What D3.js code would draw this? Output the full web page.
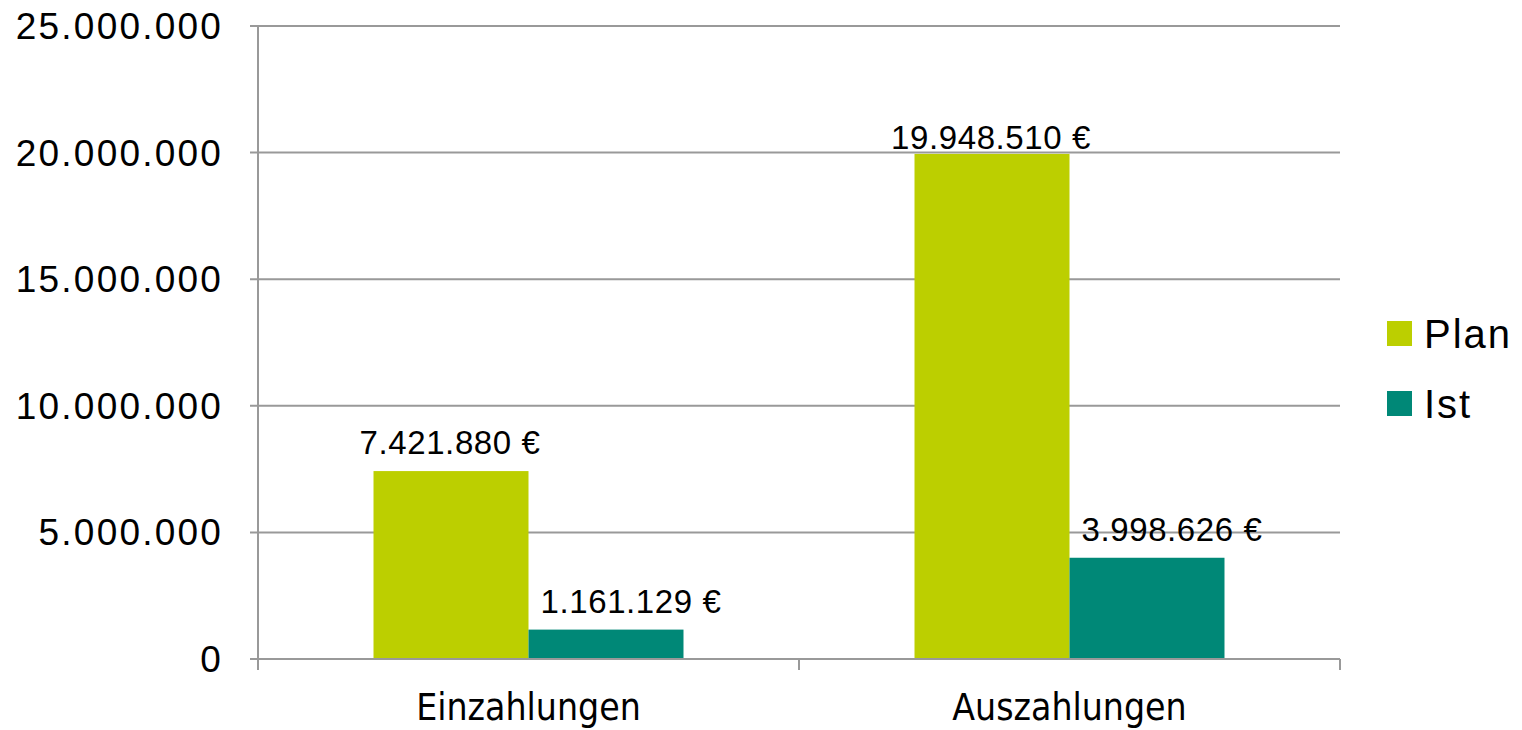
<!DOCTYPE html>
<html>
<head>
<meta charset="utf-8">
<script src="https://cdn.jsdelivr.net/npm/d3@7"></script>
<style>
	html, body { margin: 0; padding: 0; background: #fff; }
	svg text { font-family: "Liberation Sans", Arial, sans-serif; fill: #000; }
	.cat { font-family: "Liberation Sans Narrow", "DejaVu Sans Condensed", sans-serif; }
</style>
</head>
<body>
<svg id="chart"></svg>
<script>
const categories = ['Einzahlungen', 'Auszahlungen']
const series     = ['Plan', 'Ist']
const planValues = [7421880, 19948510]
const istValues  = [1161129, 3998626]
const yTicks     = [0, 5000000, 10000000, 15000000, 20000000, 25000000]

const colors = { Plan: '#bccf00', Ist: '#008877' }

const w = 1522, h = 730
const plotL = 258, plotR = 1340, plotT = 26, plotB = 659

const de = d3.formatLocale({ decimal: ',', thousands: '.', grouping: [3], currency: ['', ' €'] })
const fmt = de.format(',.0f')

const svg = d3.select('#chart').attr('width', w).attr('height', h)

const x = d3.scaleBand().domain(categories).range([plotL, plotR])
const x1 = d3.scaleBand().domain(series)
	.range([x.bandwidth() * 0.2135, x.bandwidth() * (1 - 0.2135)])
const y = d3.scaleLinear().domain([0, 25000000]).range([plotB, plotT])

const rows = categories.map((c, i) => ({ cat: c, Plan: planValues[i], Ist: istValues[i] }))

// Gridlines
svg.append('g')
	.selectAll('line')
	.data(yTicks.slice(1))
	.enter()
	.append('line')
	.attr('x1', plotL - 8).attr('x2', plotR)
	.attr('y1', d => y(d)).attr('y2', d => y(d))
	.attr('stroke', '#999').attr('stroke-width', 2)

// Bars
const groups = svg.append('g')
	.selectAll('g')
	.data(rows)
	.enter()
	.append('g')
	.attr('transform', d => `translate(${x(d.cat)},0)`)

groups.selectAll('rect')
	.data(d => series.map(s => ({ s, v: d[s] })))
	.enter()
	.append('rect')
	.attr('x', d => x1(d.s))
	.attr('width', x1.bandwidth())
	.attr('y', d => y(d.v))
	.attr('height', d => y(0) - y(d.v))
	.attr('fill', d => colors[d.s])

// Labels
groups.selectAll('text')
	.data(d => series.map(s => ({ s, v: d[s] })))
	.enter()
	.append('text')
	.attr('x', d => x1(d.s) + x1.bandwidth() / 2 + (d.s === 'Ist' ? 25 : -1))
	.attr('y', d => Math.max(y(d.v) - 17, 149))
	.attr('text-anchor', 'middle')
	.style('font-size', '33px')
	.style('letter-spacing', '0.6px')
	.text(d => `${fmt(d.v)} €`)

// Y axis
const yAxis = svg.append('g')
yAxis.append('line')
	.attr('x1', plotL).attr('x2', plotL)
	.attr('y1', plotT).attr('y2', plotB + 11)
	.attr('stroke', '#999').attr('stroke-width', 2)
yAxis.selectAll('text')
	.data(yTicks)
	.enter()
	.append('text')
	.attr('x', 223)
	.attr('y', d => y(d) + 13)
	.attr('text-anchor', 'end')
	.style('font-size', '37px')
	.style('letter-spacing', '2.2px')
	.text(d => fmt(d))

// X axis
const xAxis = svg.append('g')
xAxis.append('line')
	.attr('x1', plotL - 8).attr('x2', plotR)
	.attr('y1', plotB).attr('y2', plotB)
	.attr('stroke', '#999').attr('stroke-width', 2)
xAxis.selectAll('line.tick')
	.data(categories.concat(['end']))
	.enter()
	.append('line')
	.attr('class', 'tick')
	.attr('x1', (d, i) => plotL + i * x.bandwidth())
	.attr('x2', (d, i) => plotL + i * x.bandwidth())
	.attr('y1', plotB).attr('y2', plotB + 11)
	.attr('stroke', '#999').attr('stroke-width', 2)
xAxis.selectAll('text')
	.data(categories)
	.enter()
	.append('text')
	.attr('class', 'cat')
	.attr('x', d => x(d) + x.bandwidth() / 2)
	.attr('y', 720)
	.attr('text-anchor', 'middle')
	.style('font-size', '37px')
	.text(d => d)

// Legend
const legend = svg.append('g')
	.selectAll('g')
	.data(series)
	.enter()
	.append('g')
	.attr('transform', (d, i) => `translate(1387,${321 + i * 70})`)
legend.append('rect')
	.attr('width', 25).attr('height', 25)
	.attr('fill', d => colors[d])
legend.append('text')
	.attr('x', 37).attr('y', 27)
	.style('font-size', '40px')
	.style('letter-spacing', '2px')
	.text(d => d)
</script>
</body>
</html>
